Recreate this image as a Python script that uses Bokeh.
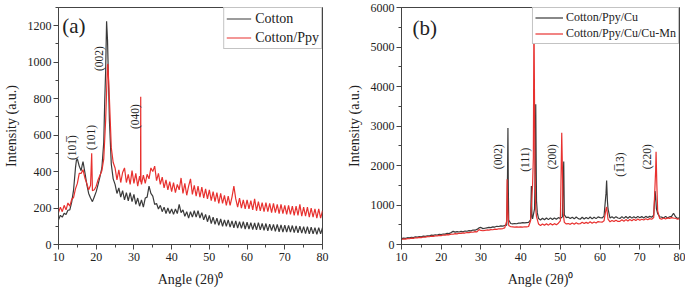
import numpy as np
from bokeh.plotting import figure
from bokeh.layouts import row
from bokeh.models import Label, SingleIntervalTicker, Range1d, Legend, LegendItem
from bokeh.embed import file_html
from bokeh.resources import INLINE

FONT = "'Liberation Serif', 'Times New Roman', serif"
BLACK = "#3a3a3a"
RED = "#e8312f"

# common angle grid (2theta, degrees)
grid_x = np.arange(10, 80.001, 0.5)

# ---- panel (a) ----
cotton = [
    135, 160, 150, 172, 165, 188, 190, 232, 300, 420,
    470, 430, 405, 455, 395, 330, 280, 255, 235, 262,
    290, 330, 372, 420, 560, 950, 1120, 680, 440, 360,
    330, 280, 310, 260, 295, 245, 285, 240, 285, 235,
    275, 220, 255, 210, 245, 205, 255, 260, 320, 280,
    265, 220, 225, 195, 215, 180, 205, 170, 200, 170,
    195, 165, 195, 170, 220, 175, 190, 155, 180, 145,
    180, 150, 185, 150, 185, 145, 175, 135, 165, 125,
    160, 115, 150, 110, 145, 105, 140, 100, 135, 100,
    135, 95, 130, 92, 130, 90, 125, 88, 125, 85,
    122, 85, 120, 82, 118, 80, 120, 80, 115, 78,
    115, 75, 112, 76, 110, 72, 110, 70, 108, 68,
    106, 68, 105, 68, 104, 65, 102, 64, 100, 62,
    98, 60, 98, 58, 95, 58, 92, 56, 92, 58,
    92,
]
cotton_peak_x = [14.75, 16.25, 22.25, 22.75, 23.25]
cotton_peak_y = [462, 432, 780, 1225, 900]

cotton_ppy = [
    175, 205, 180, 215, 190, 228, 210, 248, 258, 305,
    335, 390, 390, 410, 365, 335, 300, 325, 295, 300,
    320, 355, 380, 405, 470, 680, 985, 800, 530, 450,
    420, 355, 410, 340, 395, 420, 340, 385, 330, 405,
    335, 390, 320, 375, 330, 380, 335, 385, 360, 420,
    400, 430, 350, 390, 330, 370, 310, 355, 300, 345,
    290, 340, 285, 330, 300, 365, 280, 335, 270, 320,
    360, 275, 325, 265, 320, 260, 315, 255, 305, 250,
    300, 240, 290, 235, 285, 225, 280, 225, 270, 215,
    265, 215, 260, 320, 250, 205, 255, 200, 245, 195,
    245, 195, 240, 190, 250, 185, 235, 185, 230, 180,
    230, 180, 225, 175, 225, 175, 220, 170, 220, 170,
    215, 165, 215, 165, 210, 160, 210, 160, 220, 155,
    205, 155, 205, 150, 200, 150, 195, 145, 195, 145,
    185,
]
cotton_ppy_peak_x = [18.8, 22.9, 23.1, 31.75, 31.8, 31.85]
cotton_ppy_peak_y = [500, 930, 990, 345, 810, 350]

# ---- panel (b) ----
ppy_cu = [
    150, 162, 156, 172, 166, 182, 176, 192, 186, 202,
    196, 212, 206, 222, 216, 236, 230, 246, 240, 256,
    252, 266, 262, 282, 276, 302, 332, 312, 326, 316,
    332, 322, 342, 336, 352, 346, 366, 362, 382, 420,
    432, 402, 412, 422, 432, 426, 446, 442, 462, 456,
    472, 466, 482, 492, 620, 532, 522, 532, 526, 542,
    542, 552, 546, 556, 562, 620, 650, 900, 1100, 660,
    620, 665, 625, 670, 630, 675, 632, 672, 638, 680,
    660, 700, 750, 680, 692, 660, 690, 650, 695, 655,
    640, 690, 645, 685, 650, 695, 648, 690, 655, 700,
    682, 672, 720, 1300, 900, 670, 700, 665, 705, 670,
    660, 705, 662, 708, 665, 710, 668, 705, 670, 712,
    676, 706, 672, 712, 682, 712, 690, 740, 1200, 780,
    702, 692, 672, 712, 670, 702, 712, 790, 702, 662,
    672,
]
ppy_cu_peak_x = [36.7, 36.8, 36.9, 42.7, 42.85, 43.6, 43.8, 43.95, 44.2,
                 50.7, 50.85, 50.95, 61.65, 61.85, 73.85, 74.2]
ppy_cu_peak_y = [1800, 2950, 1400, 1480, 700, 1500, 3550, 1600, 800,
                 1500, 2100, 1200, 1620, 1100, 1350, 900]

ppy_cu_mn = [
    130, 140, 136, 150, 146, 160, 156, 170, 166, 180,
    176, 190, 186, 200, 196, 210, 206, 220, 216, 230,
    226, 240, 236, 250, 246, 264, 260, 274, 270, 284,
    280, 294, 290, 304, 300, 314, 310, 324, 320, 376,
    356, 348, 358, 368, 364, 378, 374, 388, 384, 398,
    394, 404, 420, 600, 480, 450, 446, 440, 446, 440,
    446, 440, 450, 446, 456, 600, 1500, 3500, 700, 520,
    480, 520, 485, 525, 490, 530, 495, 528, 500, 540,
    600, 2000, 560, 520, 530, 510, 545, 515, 550, 520,
    525, 565, 530, 560, 535, 575, 540, 570, 545, 580,
    570, 566, 600, 900, 640, 575, 610, 580, 615, 585,
    585, 625, 590, 630, 595, 635, 600, 640, 605, 645,
    615, 640, 620, 650, 625, 655, 640, 680, 1900, 850,
    660, 640, 670, 645, 675, 660, 680, 670, 665, 640,
    655,
]
ppy_cu_mn_peak_x = [36.6, 36.75, 43.2, 43.35, 43.6, 43.8, 50.35, 50.7, 61.65, 74.1, 74.3]
ppy_cu_mn_peak_y = [1650, 900, 2200, 5950, 2000, 900, 2830, 800, 950, 2350, 1500]

labels_a = ["(101\u0305)", "(101)", "(002)", "(040)"]
labels_a_x = [13.6, 18.7, 20.8, 30.3]
labels_a_y = [532, 587, 1020, 702]

labels_b = ["(002)", "(111)", "(200)", "(1\u030513)", "(220)"]
labels_b_x = [34.2, 41.0, 48.0, 65.1, 71.9]
labels_b_y = [2222, 2147, 2222, 2022, 2222]


def merged(base, px, py):
    x = np.concatenate([grid_x, np.array(px, dtype=float)])
    y = np.concatenate([np.array(base, dtype=float), np.array(py, dtype=float)])
    o = np.argsort(x, kind="stable")
    return x[o], y[o]


def make_fig(width, ymax, yint, bl, br, bt, bb):
    p = figure(width=width, height=290, x_range=Range1d(10, 80), y_range=Range1d(0, ymax),
               output_backend="svg", toolbar_location=None,
               min_border_left=bl, min_border_right=br, min_border_top=bt, min_border_bottom=bb)
    p.xgrid.visible = False
    p.ygrid.visible = False
    p.outline_line_color = "#444444"
    p.outline_line_width = 1
    p.background_fill_color = "white"
    p.border_fill_color = "white"
    p.xaxis.ticker = SingleIntervalTicker(interval=10, num_minor_ticks=2)
    p.yaxis.ticker = SingleIntervalTicker(interval=yint, num_minor_ticks=2)
    for ax in (p.xaxis[0], p.yaxis[0]):
        ax.major_tick_in = 0
        ax.major_tick_out = 5
        ax.minor_tick_in = 0
        ax.minor_tick_out = 3
        ax.axis_line_color = "#444444"
        ax.major_tick_line_color = "#444444"
        ax.minor_tick_line_color = "#444444"
        ax.major_label_text_font = FONT
        ax.major_label_text_font_size = "12px"
        ax.major_label_text_color = "#222222"
        ax.axis_label_text_font = FONT
        ax.axis_label_text_font_size = "14px"
        ax.axis_label_text_font_style = "normal"
        ax.axis_label_text_color = "#222222"
    p.xaxis.major_label_standoff = 3
    p.yaxis.major_label_standoff = 2
    p.xaxis.axis_label_standoff = 8
    p.yaxis.axis_label_standoff = 6
    p.xaxis.axis_label = "Angle (2θ)⁰"
    p.yaxis.axis_label = "Intensity (a.u.)"
    return p


# ---- figure (a) ----
pa = make_fig(340, 1300, 200, 50, 18, 7, 46)
xa1, ya1 = merged(cotton, cotton_peak_x, cotton_peak_y)
xa2, ya2 = merged(cotton_ppy, cotton_ppy_peak_x, cotton_ppy_peak_y)
ra1 = pa.line(xa1, ya1, color=BLACK, line_width=1.2)
ra2 = pa.line(xa2, ya2, color=RED, line_width=1.2)
lega = Legend(items=[LegendItem(label="Cotton", renderers=[ra1]),
                     LegendItem(label="Cotton/Ppy", renderers=[ra2])],
              location="top_right", margin=0, padding=2, spacing=2,
              glyph_width=25, glyph_height=17, label_height=17, label_standoff=4,
              label_text_font=FONT, label_text_font_size="14px", label_text_color="#222222",
              border_line_color="#888888", border_line_width=1, background_fill_alpha=1)
pa.add_layout(lega)
pa.add_layout(Label(x=11.0, y=1200, text="(a)", text_font=FONT, text_font_size="21px",
                    text_align="left", text_baseline="middle", text_color="#222222"))
for t, lx, ly in zip(labels_a, labels_a_x, labels_a_y):
    pa.add_layout(Label(x=lx, y=ly, text=t, text_font=FONT, text_font_size="11.5px",
                        angle=np.pi / 2, text_align="center", text_baseline="middle",
                        text_color="#222222"))

# ---- figure (b) ----
pb = make_fig(345, 6000, 1000, 61, 6, 6, 44)
xb1, yb1 = merged(ppy_cu, ppy_cu_peak_x, ppy_cu_peak_y)
xb2, yb2 = merged(ppy_cu_mn, ppy_cu_mn_peak_x, ppy_cu_mn_peak_y)
rb1 = pb.line(xb1, yb1, color=BLACK, line_width=1.2)
rb2 = pb.line(xb2, yb2, color=RED, line_width=1.2)
legb = Legend(items=[LegendItem(label="Cotton/Ppy/Cu", renderers=[rb1]),
                     LegendItem(label="Cotton/Ppy/Cu/Cu-Mn", renderers=[rb2])],
              location="top_right", margin=0, padding=2, spacing=1,
              glyph_width=28, glyph_height=15, label_height=15, label_standoff=3,
              label_text_font=FONT, label_text_font_size="12px", label_text_color="#222222",
              border_line_color="#888888", border_line_width=1, background_fill_alpha=1)
pb.add_layout(legb)
pb.add_layout(Label(x=12.8, y=5480, text="(b)", text_font=FONT, text_font_size="21px",
                    text_align="left", text_baseline="middle", text_color="#222222"))
for t, lx, ly in zip(labels_b, labels_b_x, labels_b_y):
    pb.add_layout(Label(x=lx, y=ly, text=t, text_font=FONT, text_font_size="11.5px",
                        angle=np.pi / 2, text_align="center", text_baseline="middle",
                        text_color="#222222"))

layout = row(pa, pb)
open("out.html", "w").write(file_html(layout, INLINE))
